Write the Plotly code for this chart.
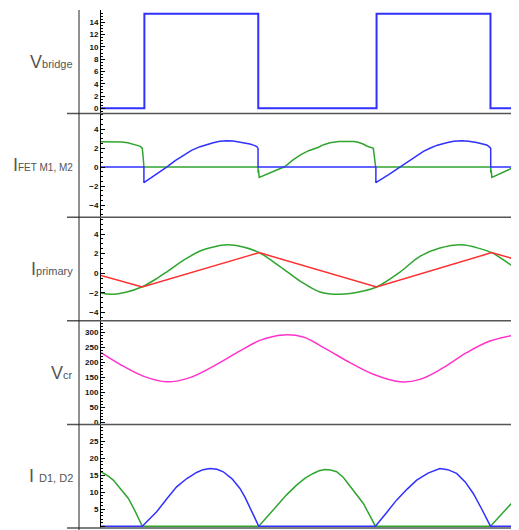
import plotly.graph_objects as go
from plotly.subplots import make_subplots

# ---- time axis (arbitrary units, one switching period ~ 10) ----
T_END = 18.02

# Panel 1: bridge voltage
t_vbridge = [0, 1.87, 1.87, 6.78, 6.78, 11.88, 11.88, 16.79, 16.79, 18.02]
v_bridge = [0, 0, 15.4, 15.4, 0, 0, 15.4, 15.4, 0, 0]

# Panel 2: FET currents
t_fet_blue = [0, 1.85, 1.85, 2.35, 2.83, 3.2, 3.55, 3.9, 4.27, 4.55, 4.84, 5.12, 5.42,
              5.7, 5.99, 6.2, 6.42, 6.6, 6.72, 6.77, 6.77,
              11.85, 11.85, 12.4, 12.9, 13.25, 13.61, 13.9, 14.18, 14.5, 14.9, 15.2,
              15.55, 15.85, 16.19, 16.45, 16.63, 16.75, 16.80, 16.80, 18.02]
i_fet_blue = [0, 0, -1.65, -0.85, 0.0, 0.68, 1.26, 1.75, 2.14, 2.38, 2.56, 2.70, 2.77,
              2.73, 2.63, 2.54, 2.42, 2.28, 2.14, 1.96, 0,
              0, -1.65, -0.8, 0.0, 0.65, 1.2, 1.65, 1.98, 2.3, 2.56, 2.7,
              2.77, 2.72, 2.58, 2.45, 2.32, 2.1, 1.96, 0, 0]
t_fet_green = [0, 0.45, 0.89, 1.15, 1.39, 1.6, 1.71, 1.78, 1.82, 1.85,
               6.77, 6.77, 6.79, 6.82, 7.4, 7.93, 8.25, 8.58, 8.95, 9.35, 9.6, 9.87,
               10.25, 10.65, 10.9, 11.08, 11.3, 11.45, 11.62, 11.74, 11.79, 11.84,
               16.80, 16.80, 16.82, 16.85, 17.4, 17.92, 18.02]
i_fet_green = [2.67, 2.68, 2.62, 2.55, 2.42, 2.25, 2.14, 1.96, 0.98, 0,
               0, -0.6, -0.3, -1.09, -0.5, 0.05, 0.7, 1.26, 1.72, 2.05, 2.35, 2.56,
               2.68, 2.72, 2.68, 2.60, 2.42, 2.21, 2.08, 1.96, 0.98, 0,
               0, -0.6, -0.3, -1.09, -0.5, 0.10, 0.28]

# Panel 3: primary current (resonant) and magnetising current
t_prim = [0, 0.46, 1.11, 1.75, 2.40, 2.90, 3.55, 4.27, 4.84, 5.42, 6.13, 6.82, 7.72, 8.58,
          9.44, 10.30, 11.31, 11.88, 12.89, 13.75, 14.61, 15.55, 16.34, 16.84, 17.49, 18.02]
i_prim = [-2.02, -2.16, -1.92, -1.41, -0.55, 0.25, 1.30, 2.27, 2.68, 2.91, 2.68, 2.10, 0.68,
          -0.80, -1.92, -2.16, -1.82, -1.41, 0.12, 1.72, 2.57, 2.91, 2.51, 2.10, 1.14, 0.22]
t_mag = [0, 1.78, 6.82, 11.88, 16.84, 18.02]
i_mag = [-0.22, -1.41, 2.10, -1.41, 2.10, 1.31]

# Panel 4: resonant capacitor voltage
t_vcr = [0, 0.82, 1.82, 2.83, 3.84, 4.99, 5.99, 6.85, 7.86, 8.72, 9.73, 10.73, 11.74,
         12.89, 13.75, 14.76, 15.76, 16.77, 17.92, 18.02]
v_cr = [232, 193, 154, 135, 149, 193, 238, 273, 291, 284, 243, 199, 160,
        135, 143, 182, 232, 271, 291, 291]

# Panel 5: output diode currents
t_d_blue = [0, 1.78, 2.1, 2.40, 2.83, 3.26, 3.7, 4.12, 4.40, 4.70, 5.0, 5.27, 5.65, 5.99,
            6.2, 6.42, 6.62, 6.80, 11.83, 12.3, 12.74, 13.2, 13.61, 14.1, 14.61, 14.95,
            15.33, 15.7, 16.05, 16.4, 16.79, 18.02]
i_d_blue = [0, 0, 2.2, 4.22, 8.0, 11.57, 14.0, 15.78, 16.6, 16.96, 16.7, 15.98, 13.9, 11.08,
            8.6, 5.2, 2.6, 0, 0, 3.9, 7.65, 10.9, 13.53, 15.6, 16.96, 16.6,
            15.5, 13.0, 9.61, 5.2, 0, 0]
t_d_green = [0, 0.27, 0.53, 0.85, 1.18, 1.48, 1.78, 6.80, 7.2, 7.57, 8.0, 8.43, 8.8, 9.15,
             9.4, 9.66, 9.9, 10.16, 10.45, 10.73, 11.0, 11.31, 11.55, 11.83, 16.79,
             17.15, 17.49, 17.75, 18.02]
i_d_green = [15.98, 14.9, 13.53, 11.0, 8.14, 4.3, 0, 0, 3.0, 5.69, 9.2, 12.06, 14.1, 15.49,
             16.3, 16.67, 16.5, 15.98, 14.3, 11.8, 9.5, 6.67, 3.6, 0, 0,
             2.7, 5.2, 7.2, 9.12]

# axis settings
y_ranges = [[-0.86, 16.0], [-5.28, 5.62], [-4.86, 5.72], [-7, 338.3], [-0.53, 29.9]]
y_ticks = [[0, 2, 4, 6, 8, 10, 12, 14], [-4, -2, 0, 2, 4], [-4, -2, 0, 2, 4],
           [0, 50, 100, 150, 200, 250, 300], [0, 5, 10, 15, 20, 25]]
y_minor = [0.5, 0.5, 0.5, 10, 1]
row_labels = [
    "V<span style='font-size:11px'>bridge</span>",
    "I<span style='font-size:10px'>FET M1, M2</span>",
    "I<span style='font-size:11px'>primary</span>",
    "V<span style='font-size:11px'>cr</span>",
    "I <span style='font-size:11px'>D1, D2</span>",
]

BLUE = "#3030ff"
GREEN = "#2fa52f"
RED = "#ff3030"
MAGENTA = "#ff33cc"

fig = make_subplots(rows=5, cols=1, shared_xaxes=True, vertical_spacing=0)

fig.add_trace(go.Scatter(x=t_vbridge, y=v_bridge, mode="lines",
                         line=dict(color=BLUE, width=2)), row=1, col=1)
fig.add_trace(go.Scatter(x=t_fet_green, y=i_fet_green, mode="lines",
                         line=dict(color=GREEN, width=1.5)), row=2, col=1)
fig.add_trace(go.Scatter(x=t_fet_blue, y=i_fet_blue, mode="lines",
                         line=dict(color=BLUE, width=1.5)), row=2, col=1)
fig.add_trace(go.Scatter(x=t_prim, y=i_prim, mode="lines", line_shape="spline",
                         line=dict(color=GREEN, width=1.5)), row=3, col=1)
fig.add_trace(go.Scatter(x=t_mag, y=i_mag, mode="lines",
                         line=dict(color=RED, width=1.5)), row=3, col=1)
fig.add_trace(go.Scatter(x=t_vcr, y=v_cr, mode="lines", line_shape="spline",
                         line=dict(color=MAGENTA, width=1.5)), row=4, col=1)
fig.add_trace(go.Scatter(x=t_d_green, y=i_d_green, mode="lines",
                         line=dict(color=GREEN, width=1.5)), row=5, col=1)
fig.add_trace(go.Scatter(x=t_d_blue, y=i_d_blue, mode="lines",
                         line=dict(color=BLUE, width=1.5)), row=5, col=1)

for r in range(1, 6):
    fig.update_xaxes(range=[0, T_END], showticklabels=False, showgrid=False,
                     zeroline=False, showline=False, ticks="", row=r, col=1)
    fig.update_yaxes(range=y_ranges[r - 1], tickvals=y_ticks[r - 1],
                     showgrid=False, zeroline=False, showline=True,
                     linecolor="#000", linewidth=1, ticks="inside", ticklen=4,
                     tickcolor="#000",
                     minor=dict(dtick=y_minor[r - 1], ticks="inside", ticklen=2,
                                tickcolor="#000", showgrid=False),
                     tickfont=dict(family="Liberation Sans, Arial", size=8,
                                   color="#111", weight="bold"),
                     row=r, col=1)

# page body adds an 8px offset, so the figure is 8px smaller and margins shifted
OFF = 8
W, H = 519 - OFF, 530 - OFF
ML, MT, MB = 101 - OFF, 10 - OFF, 2
plot_w = W - ML
plot_h = H - MT - MB

shapes = []
x_left = (67 - 101) / plot_w
# horizontal separators between panels and at the bottom
for k in range(1, 6):
    yb = 1 - k / 5
    shapes.append(dict(type="line", xref="paper", yref="paper", x0=x_left, x1=1,
                       y0=yb, y1=yb, line=dict(color="#555", width=1.5)))
# left frame line
xv = (79 - 101) / plot_w
shapes.append(dict(type="line", xref="paper", yref="paper", x0=xv, x1=xv,
                   y0=-MB / plot_h, y1=1, line=dict(color="#222", width=1)))

annotations = []
x_lab = (75 - 101) / plot_w
for r in range(1, 6):
    ydom = "y domain" if r == 1 else f"y{r} domain"
    annotations.append(dict(text=row_labels[r - 1], xref="paper", yref=ydom,
                            x=x_lab, y=0.5, xanchor="right", yanchor="middle",
                            showarrow=False,
                            font=dict(family="Liberation Sans, Arial", size=18,
                                      color="#555")))

fig.update_layout(width=W, height=H, margin=dict(l=ML, r=0, t=MT, b=MB),
                  paper_bgcolor="white", plot_bgcolor="white", showlegend=False,
                  shapes=shapes, annotations=annotations)

fig.write_html("out.html")
